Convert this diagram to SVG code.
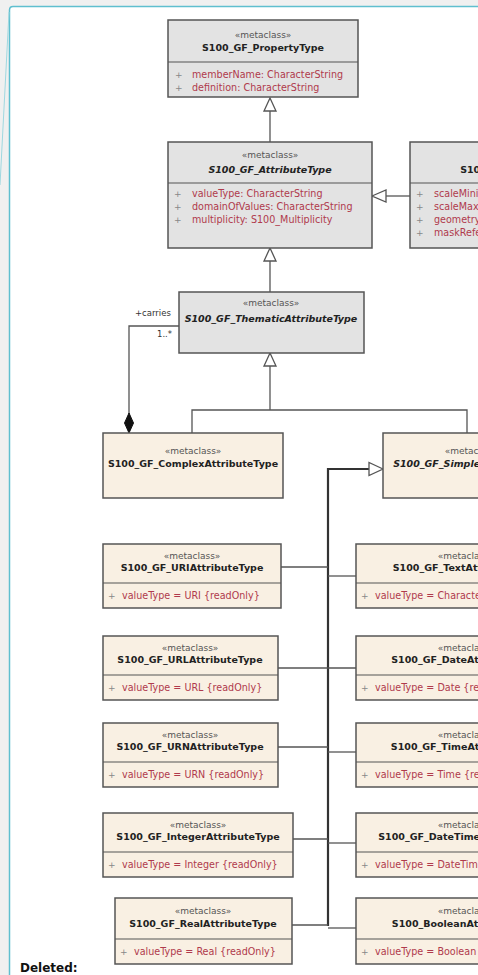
<svg xmlns="http://www.w3.org/2000/svg" width="478" height="975" viewBox="0 0 478 975">
<style>
.bg{fill:#f0f0f0}
.edge{fill:none;stroke:#5fbfcf;stroke-width:1.5}
.g{fill:#e3e3e3;stroke:#555;stroke-width:1.5}
.b{fill:#f9f0e3;stroke:#555;stroke-width:1.5}
.dv{stroke:#555;stroke-width:1.2}
text{font-family:"DejaVu Sans","Liberation Sans",sans-serif}
.st{font-size:9px;fill:#555;text-anchor:middle}
.nm{font-size:9.5px;font-weight:bold;fill:#222;text-anchor:middle}
.it{font-style:italic}
.at{font-size:9.6px;fill:#b03a4c}
.pl{font-size:9px;fill:#888}
.lb{font-size:8.5px;fill:#333}
.ln{fill:none;stroke:#555;stroke-width:1.3}
.th{fill:none;stroke:#333;stroke-width:2.2}
.tri{fill:#fff;stroke:#555;stroke-width:1.3}
</style>
<rect class="bg" x="0" y="0" width="478" height="975"/>
<rect x="9.5" y="6.5" width="480" height="980" rx="3.5" fill="#fff"/>
<path class="edge" d="M9.5,975 V10 Q9.5,6.5 13,6.5 H480"/>
<line x1="9" y1="12" x2="0" y2="185" stroke="#9fd8e0" stroke-width="1"/>
<text x="20" y="972" style="font-family:'DejaVu Sans',sans-serif;font-size:12px;font-weight:bold;fill:#111">Deleted:</text>

<g id="connectors">
  <line class="ln" x1="270" y1="142" x2="270" y2="111"/>
  <polygon class="tri" points="270,98 264,111 276,111"/>
  <line class="ln" x1="270" y1="292" x2="270" y2="261"/>
  <polygon class="tri" points="270,248 264,261 276,261"/>
  <line class="ln" x1="410" y1="196" x2="386" y2="196"/>
  <polygon class="tri" points="372,196 386,190 386,202"/>
  <polyline class="ln" points="270,366 270,410"/>
  <polyline class="ln" points="192,433 192,410 467,410 467,433"/>
  <polygon class="tri" points="270,353 264,366 276,366"/>
  <polyline class="ln" points="179,326 129,326 129,414"/>
  <polygon points="129,413 133.5,423 129,433 124.5,423" fill="#111" stroke="#111" stroke-width="1"/>
  <text class="lb" x="135" y="316">+carries</text>
  <text class="lb" x="157" y="337">1..*</text>
  <polyline class="th" points="328,926 328,469 369,469"/>
  <polygon class="tri" points="383,469 369,462.5 369,475.5"/>
  <line class="ln" x1="281" y1="567" x2="328" y2="567"/>
  <line class="ln" x1="328" y1="576" x2="356" y2="576"/>
  <line class="ln" x1="278" y1="668" x2="356" y2="668"/>
  <line class="ln" x1="278" y1="747" x2="328" y2="747"/>
  <line class="ln" x1="328" y1="752" x2="356" y2="752"/>
  <line class="ln" x1="293" y1="839" x2="328" y2="839"/>
  <line class="ln" x1="328" y1="843" x2="356" y2="843"/>
  <line class="ln" x1="292" y1="925" x2="328" y2="925"/>
  <line class="ln" x1="328" y1="928" x2="356" y2="928"/>
</g>

<g id="PropertyType">
  <rect class="g" x="168" y="20" width="190" height="77"/>
  <line class="dv" x1="168" y1="62" x2="358" y2="62"/>
  <text class="st" x="263" y="38">«metaclass»</text>
  <text class="nm" x="263" y="51">S100_GF_PropertyType</text>
  <text class="pl" x="175" y="78">+</text><text class="at" x="192" y="78">memberName: CharacterString</text>
  <text class="pl" x="175" y="91">+</text><text class="at" x="192" y="91">definition: CharacterString</text>
</g>

<g id="AttributeType">
  <rect class="g" x="168" y="142" width="204" height="106"/>
  <line class="dv" x1="168" y1="183" x2="372" y2="183"/>
  <text class="st" x="270" y="158">«metaclass»</text>
  <text class="nm it" x="270" y="173">S100_GF_AttributeType</text>
  <text class="pl" x="174" y="197">+</text><text class="at" x="192" y="197">valueType: CharacterString</text>
  <text class="pl" x="174" y="210">+</text><text class="at" x="192" y="210">domainOfValues: CharacterString</text>
  <text class="pl" x="174" y="223">+</text><text class="at" x="192" y="223">multiplicity: S100_Multiplicity</text>
</g>

<g id="SpatialAttributeType">
  <rect class="g" x="410" y="142" width="262" height="106"/>
  <line class="dv" x1="410" y1="183" x2="672" y2="183"/>
  <text class="st" x="541" y="158">«metaclass»</text>
  <text class="nm" x="541" y="173">S100_GF_SpatialAttributeType</text>
  <text class="pl" x="416" y="197">+</text><text class="at" x="434" y="197">scaleMinimum: Integer [0..1]</text>
  <text class="pl" x="416" y="210">+</text><text class="at" x="434" y="210">scaleMaximum: Integer [0..1]</text>
  <text class="pl" x="416" y="223">+</text><text class="at" x="434" y="223">geometry</text>
  <text class="pl" x="416" y="236">+</text><text class="at" x="434" y="236">maskReference</text>
</g>

<g id="ThematicAttributeType">
  <rect class="g" x="179" y="292" width="185" height="61"/>
  <text class="st" x="271" y="306">«metaclass»</text>
  <text class="nm it" x="271" y="322">S100_GF_ThematicAttributeType</text>
</g>

<g id="ComplexAttributeType">
  <rect class="b" x="103" y="433" width="180" height="65"/>
  <text class="st" x="193" y="454">«metaclass»</text>
  <text class="nm" x="193" y="467">S100_GF_ComplexAttributeType</text>
</g>

<g id="SimpleAttributeType">
  <rect class="b" x="383" y="433" width="180" height="65"/>
  <text class="st" x="473" y="454">«metaclass»</text>
  <text class="nm it" x="473" y="467">S100_GF_SimpleAttributeType</text>
</g>

<g id="URIAttributeType">
  <rect class="b" x="103" y="544" width="178" height="64"/>
  <line class="dv" x1="103" y1="583" x2="281" y2="583"/>
  <text class="st" x="192" y="559">«metaclass»</text>
  <text class="nm" x="192" y="571">S100_GF_URIAttributeType</text>
  <text class="pl" x="108" y="599">+</text><text class="at" x="122" y="599">valueType = URI {readOnly}</text>
</g>

<g id="URLAttributeType">
  <rect class="b" x="103" y="636" width="175" height="64"/>
  <line class="dv" x1="103" y1="675" x2="278" y2="675"/>
  <text class="st" x="190" y="651">«metaclass»</text>
  <text class="nm" x="190" y="663">S100_GF_URLAttributeType</text>
  <text class="pl" x="108" y="691">+</text><text class="at" x="122" y="691">valueType = URL {readOnly}</text>
</g>

<g id="URNAttributeType">
  <rect class="b" x="103" y="723" width="175" height="64"/>
  <line class="dv" x1="103" y1="762" x2="278" y2="762"/>
  <text class="st" x="190" y="738">«metaclass»</text>
  <text class="nm" x="190" y="750">S100_GF_URNAttributeType</text>
  <text class="pl" x="108" y="778">+</text><text class="at" x="122" y="778">valueType = URN {readOnly}</text>
</g>

<g id="IntegerAttributeType">
  <rect class="b" x="103" y="813" width="190" height="64"/>
  <line class="dv" x1="103" y1="852" x2="293" y2="852"/>
  <text class="st" x="198" y="828">«metaclass»</text>
  <text class="nm" x="198" y="840">S100_GF_IntegerAttributeType</text>
  <text class="pl" x="108" y="868">+</text><text class="at" x="122" y="868">valueType = Integer {readOnly}</text>
</g>

<g id="RealAttributeType">
  <rect class="b" x="115" y="898" width="177" height="66"/>
  <line class="dv" x1="115" y1="939" x2="292" y2="939"/>
  <text class="st" x="203" y="914">«metaclass»</text>
  <text class="nm" x="203" y="927">S100_GF_RealAttributeType</text>
  <text class="pl" x="120" y="955">+</text><text class="at" x="134" y="955">valueType = Real {readOnly}</text>
</g>

<g id="TextAttributeType">
  <rect class="b" x="356" y="544" width="220" height="64"/>
  <line class="dv" x1="356" y1="583" x2="576" y2="583"/>
  <text class="st" x="466" y="559">«metaclass»</text>
  <text class="nm" x="466" y="571">S100_GF_TextAttributeType</text>
  <text class="pl" x="361" y="599">+</text><text class="at" x="375" y="599">valueType = CharacterString {readOnly}</text>
</g>

<g id="DateAttributeType">
  <rect class="b" x="356" y="636" width="220" height="64"/>
  <line class="dv" x1="356" y1="675" x2="576" y2="675"/>
  <text class="st" x="466" y="651">«metaclass»</text>
  <text class="nm" x="466" y="663">S100_GF_DateAttributeType</text>
  <text class="pl" x="361" y="691">+</text><text class="at" x="375" y="691">valueType = Date {readOnly}</text>
</g>

<g id="TimeAttributeType">
  <rect class="b" x="356" y="723" width="220" height="64"/>
  <line class="dv" x1="356" y1="762" x2="576" y2="762"/>
  <text class="st" x="466" y="738">«metaclass»</text>
  <text class="nm" x="466" y="750">S100_GF_TimeAttributeType</text>
  <text class="pl" x="361" y="778">+</text><text class="at" x="375" y="778">valueType = Time {readOnly}</text>
</g>

<g id="DateTimeAttributeType">
  <rect class="b" x="356" y="813" width="220" height="64"/>
  <line class="dv" x1="356" y1="852" x2="576" y2="852"/>
  <text class="st" x="466" y="828">«metaclass»</text>
  <text class="nm" x="466" y="840">S100_GF_DateTimeAttributeType</text>
  <text class="pl" x="361" y="868">+</text><text class="at" x="375" y="868">valueType = DateTime {readOnly}</text>
</g>

<g id="BooleanAttributeType">
  <rect class="b" x="356" y="898" width="220" height="66"/>
  <line class="dv" x1="356" y1="939" x2="576" y2="939"/>
  <text class="st" x="466" y="914">«metaclass»</text>
  <text class="nm" x="466" y="927">S100_BooleanAttributeType</text>
  <text class="pl" x="361" y="955">+</text><text class="at" x="375" y="955">valueType = Boolean {readOnly}</text>
</g>
</svg>
